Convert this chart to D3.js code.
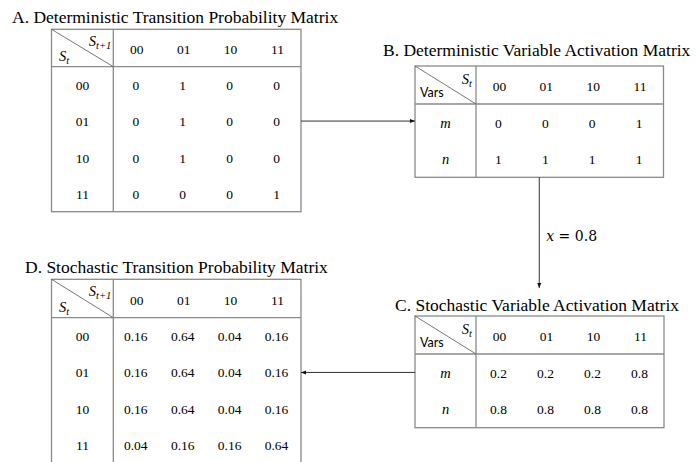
<!DOCTYPE html>
<html>
<head>
<meta charset="utf-8">
<script src="https://cdn.jsdelivr.net/npm/d3@7/dist/d3.min.js"></script>
<style>
  body { margin: 0; background: #fff; }
</style>
</head>
<body>
<svg id="chart" width="696" height="462"></svg>
<script>
// states and variables
const states = ["00", "01", "10", "11"]
const vars = ["m", "n"]

// A: deterministic transition probabilities (row = S_t, col = S_t+1)
const detTransition = [
  [0, 1, 0, 0],
  [0, 1, 0, 0],
  [0, 1, 0, 0],
  [0, 0, 0, 1]
]

// B: deterministic variable activation (row = var, col = S_t)
const detActivation = [
  [0, 0, 0, 1],
  [1, 1, 1, 1]
]

// C: stochastic variable activation
const stoActivation = [
  [0.2, 0.2, 0.2, 0.8],
  [0.8, 0.8, 0.8, 0.8]
]

// D: stochastic transition probabilities
const stoTransition = [
  [0.16, 0.64, 0.04, 0.16],
  [0.16, 0.64, 0.04, 0.16],
  [0.16, 0.64, 0.04, 0.16],
  [0.04, 0.16, 0.16, 0.64]
]

const xValue = 0.8

const titleA = "A. Deterministic Transition Probability Matrix"
const titleB = "B. Deterministic Variable Activation Matrix"
const titleC = "C. Stochastic Variable Activation Matrix"
const titleD = "D. Stochastic Transition Probability Matrix"

const svg = d3.select("#chart")
const serif = "'Liberation Serif', 'Times New Roman', serif"
const cellFont = "'Liberation Serif', serif"
const gridColor = "#8a8a8a"
const arrowColor = "#333"

svg.append("defs").append("marker")
  .attr("id", "arrow")
  .attr("viewBox", "0 0 10 10")
  .attr("refX", 10)
  .attr("refY", 5)
  .attr("markerWidth", 5)
  .attr("markerHeight", 5)
  .attr("markerUnits", "userSpaceOnUse")
  .attr("orient", "auto")
  .append("path")
    .attr("d", "M0,1 L10,5 L0,9 Z")
    .attr("fill", "#111")

function drawTitle(text, x, y) {
  svg.append("text")
    .attr("x", x)
    .attr("y", y)
    .attr("font-family", serif)
    .attr("font-size", 17.5)
    .attr("fill", "#000")
    .text(text)
}

// corner label: italic S with a subscript
function stateLabel(g, x, y, sub, anchor) {
  let t = g.append("text")
    .attr("x", x)
    .attr("y", y)
    .attr("font-family", serif)
    .attr("font-style", "italic")
    .attr("font-size", 14.5)
    .attr("text-anchor", anchor)
  t.append("tspan").text("S")
  t.append("tspan").attr("font-size", 10.5).attr("dy", 2.5).text(sub)
  return t
}

function drawTable(opts) {
  const g = svg.append("g")
  const x0 = opts.x0, y0 = opts.y0, x1 = opts.x1
  const y1 = y0 + opts.headH + opts.rowH * opts.rows.length
  const xLab = x0 + opts.labelW
  const yHead = y0 + opts.headH

  const x = d3.scaleBand().domain(opts.cols).range([xLab, x1])
  const y = d3.scaleBand().domain(opts.rows).range([yHead, y1])

  // border and dividers
  g.append("rect")
    .attr("x", x0).attr("y", y0)
    .attr("width", x1 - x0).attr("height", y1 - y0)
    .attr("fill", "none")
    .attr("stroke", gridColor)
    .attr("stroke-width", 1.3)
  g.append("line")
    .attr("x1", x0).attr("x2", x1).attr("y1", yHead).attr("y2", yHead)
    .attr("stroke", gridColor).attr("stroke-width", 1.3)
  g.append("line")
    .attr("x1", xLab).attr("x2", xLab).attr("y1", y0).attr("y2", y1)
    .attr("stroke", gridColor).attr("stroke-width", 1.3)
  g.append("line")
    .attr("x1", x0).attr("y1", y0).attr("x2", xLab).attr("y2", yHead)
    .attr("stroke", "#555").attr("stroke-width", 0.8)

  // column headers
  g.selectAll(".colhead")
    .data(opts.cols)
    .enter().append("text")
      .attr("class", "colhead")
      .attr("x", d => x(d) + x.bandwidth() / 2)
      .attr("y", y0 + opts.headH / 2 + 6)
      .attr("text-anchor", "middle")
      .attr("font-family", cellFont)
      .attr("font-size", 13.5)
      .text(d => d)

  // row headers
  g.selectAll(".rowhead")
    .data(opts.rows)
    .enter().append("text")
      .attr("class", "rowhead")
      .attr("x", x0 + opts.labelW / 2)
      .attr("y", d => y(d) + y.bandwidth() / 2 + 5.2)
      .attr("text-anchor", "middle")
      .attr("font-family", cellFont)
      .attr("font-style", opts.italicRows ? "italic" : "normal")
      .attr("font-size", opts.italicRows ? 14.5 : 13.5)
      .text(d => d)

  // values
  const cells = []
  opts.values.forEach((row, i) => {
    row.forEach((v, j) => cells.push({ r: opts.rows[i], c: opts.cols[j], v: v }))
  })
  g.selectAll(".cell")
    .data(cells)
    .enter().append("text")
      .attr("class", "cell")
      .attr("x", d => x(d.c) + x.bandwidth() / 2 - 1)
      .attr("y", d => y(d.r) + y.bandwidth() / 2 + 5.2)
      .attr("text-anchor", "middle")
      .attr("font-family", cellFont)
      .attr("font-size", 13.5)
      .text(d => String(d.v))

  // corner labels
  if (opts.corner == "transition") {
    stateLabel(g, xLab - 2, y0 + 17, "t+1", "end")
    stateLabel(g, x0 + 7.5, yHead - 5.5, "t", "start")
  } else {
    stateLabel(g, xLab - 4, y0 + 18, "t", "end")
    g.append("text")
      .attr("x", x0 + 5)
      .attr("y", yHead - 6.7)
      .attr("font-family", "Lato, 'Liberation Sans', sans-serif")
      .attr("font-size", 12.5)
      .text("Vars")
  }

  return { x: x, y: y, x0: x0, x1: x1, y0: y0, y1: y1 }
}

drawTitle(titleA, 12, 22.5)
const tA = drawTable({
  x0: 51.5, x1: 301, y0: 29.3, headH: 37.4, rowH: 36.25, labelW: 61.8,
  cols: states, rows: states, values: detTransition, corner: "transition"
})

drawTitle(titleB, 383, 55.5)
const tB = drawTable({
  x0: 415, x1: 663.5, y0: 66, headH: 38, rowH: 36.65, labelW: 61,
  cols: states, rows: vars, values: detActivation, corner: "activation", italicRows: true
})

drawTitle(titleC, 395, 310.5)
const tC = drawTable({
  x0: 415, x1: 664, y0: 316, headH: 38, rowH: 36.85, labelW: 61,
  cols: states, rows: vars, values: stoActivation, corner: "activation", italicRows: true
})

drawTitle(titleD, 25, 272.5)
const tD = drawTable({
  x0: 51.5, x1: 301, y0: 279.3, headH: 38.4, rowH: 36.25, labelW: 61.8,
  cols: states, rows: states, values: stoTransition, corner: "transition"
})

// arrows
function arrow(xa, ya, xb, yb) {
  svg.append("line")
    .attr("x1", xa).attr("y1", ya).attr("x2", xb).attr("y2", yb)
    .attr("stroke", arrowColor)
    .attr("stroke-width", 1)
    .attr("marker-end", "url(#arrow)")
}

const yAB = tA.y("01") + tA.y.bandwidth() / 2
arrow(tA.x1, yAB, tB.x0, yAB)

const xBC = (tB.x0 + tB.x1) / 2
arrow(xBC, tB.y1, xBC, 288)

const yCD = tC.y("m") + tC.y.bandwidth() / 2
arrow(tC.x0, yCD, tD.x1, yCD)

let lab = svg.append("text")
  .attr("x", xBC + 7)
  .attr("y", 241)
  .attr("font-family", "'DejaVu Serif', serif")
  .attr("font-size", 14)
lab.append("tspan").attr("font-style", "italic").text("x")
lab.append("tspan").text(" = " + xValue)
</script>
</body>
</html>
